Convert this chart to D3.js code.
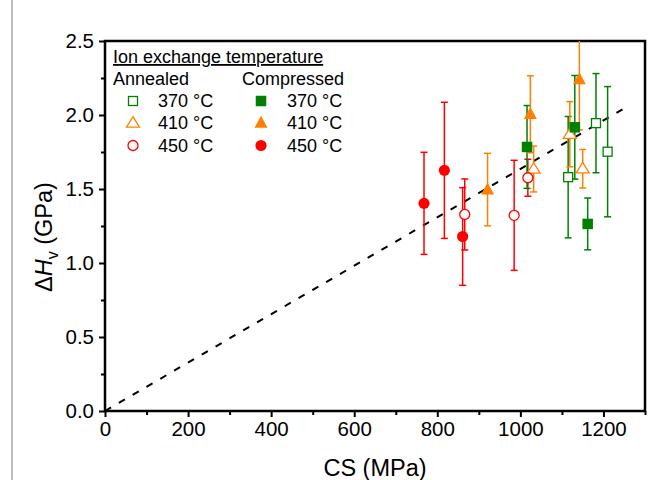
<!DOCTYPE html>
<html>
<head>
<meta charset="utf-8">
<script src="https://cdn.jsdelivr.net/npm/d3@7"></script>
<style>
  body { margin: 0; background: #fff; }
  svg { font-family: "Liberation Sans", Arial, sans-serif; }
</style>
</head>
<body>
<div id="chart"></div>
<script>
// CS (MPa), dHv (GPa), error (GPa)
const annealed370CS = [1115, 1182, 1210];
const annealed370Hv = [1.58, 1.945, 1.752];
const annealed370Err = [0.41, 0.335, 0.44];

const annealed410CS = [1032, 1119, 1150];
const annealed410Hv = [1.635, 1.87, 1.637];
const annealed410Err = [0.155, 0.22, 0.13];

const annealed450CS = [866, 985, 1018];
const annealed450Hv = [1.328, 1.322, 1.576];
const annealed450Err = [0.24, 0.372, 0.125];

const compressed370CS = [1016, 1131, 1162];
const compressed370Hv = [1.784, 1.917, 1.264];
const compressed370Err = [0.28, 0.35, 0.175];

const compressed410CS = [921, 1024, 1142];
const compressed410Hv = [1.496, 2.005, 2.24];
const compressed410Err = [0.245, 0.26, 0.34];

const compressed450CS = [768, 817, 861];
const compressed450Hv = [1.403, 1.626, 1.179];
const compressed450Err = [0.345, 0.46, 0.33];

const fitLine = [[0, 0], [1255, 2.053]];
const xTicks = [0, 200, 400, 600, 800, 1000, 1200];
const yTicks = [0.0, 0.5, 1.0, 1.5, 2.0, 2.5];

const green = "#008000", orange = "#ff8000", red = "#ff0000";

const series = [
  { name: "370 °C", cs: annealed370CS, hv: annealed370Hv, err: annealed370Err, color: green, shape: "square", open: true },
  { name: "410 °C", cs: annealed410CS, hv: annealed410Hv, err: annealed410Err, color: orange, shape: "triangle", open: true },
  { name: "450 °C", cs: annealed450CS, hv: annealed450Hv, err: annealed450Err, color: red, shape: "circle", open: true },
  { name: "370 °C", cs: compressed370CS, hv: compressed370Hv, err: compressed370Err, color: green, shape: "square", open: false },
  { name: "410 °C", cs: compressed410CS, hv: compressed410Hv, err: compressed410Err, color: orange, shape: "triangle", open: false },
  { name: "450 °C", cs: compressed450CS, hv: compressed450Hv, err: compressed450Err, color: red, shape: "circle", open: false }
];

const width = 651, height = 480;
const margin = { left: 105, right: 6, top: 41, bottom: 69 };

const svg = d3.select("#chart").append("svg")
  .attr("width", width)
  .attr("height", height);

// thin grey edge on the left
svg.append("line")
  .attr("x1", 12).attr("x2", 12).attr("y1", 0).attr("y2", height)
  .attr("stroke", "#bdbdbd").attr("stroke-width", 2);

const x = d3.scaleLinear().domain([0, 1300]).range([margin.left, width - margin.right]);
const y = d3.scaleLinear().domain([0, 2.5]).range([height - margin.bottom, margin.top]);

svg.append("clipPath").attr("id", "plot-clip")
  .append("rect")
  .attr("x", x(0)).attr("y", y(2.5))
  .attr("width", x(1300) - x(0)).attr("height", y(0) - y(2.5));

// axes
const xAxis = d3.axisBottom(x).tickValues(xTicks).tickSize(6).tickPadding(4).tickFormat(d3.format("d"));
const xMinor = d3.axisBottom(x).tickValues(d3.range(100, 1400, 200)).tickSize(4).tickFormat("");
const yAxis = d3.axisLeft(y).tickValues(yTicks).tickSize(6).tickPadding(5).tickFormat(d3.format(".1f"));
const yMinor = d3.axisLeft(y).tickValues(d3.range(0.25, 2.5, 0.5)).tickSize(4).tickFormat("");

[xAxis, xMinor].forEach(ax => {
  svg.append("g").attr("transform", `translate(0,${y(0)})`).call(ax);
});
[yAxis, yMinor].forEach(ax => {
  svg.append("g").attr("transform", `translate(${x(0)},0)`).call(ax);
});
svg.selectAll(".domain").remove();
svg.selectAll(".tick line").attr("stroke", "#000").attr("stroke-width", 2);
svg.selectAll(".tick text").attr("fill", "#000").style("font-size", "20.5px");

// frame
svg.append("rect")
  .attr("x", x(0)).attr("y", y(2.5))
  .attr("width", x(1300) - x(0)).attr("height", y(0) - y(2.5))
  .attr("fill", "none").attr("stroke", "#000").attr("stroke-width", 2.5);

// axis titles
svg.append("text")
  .attr("x", (x(0) + x(1300)) / 2).attr("y", 476)
  .attr("text-anchor", "middle")
  .style("font-size", "23.5px")
  .text("CS (MPa)");

const yTitle = svg.append("text")
  .attr("transform", `translate(52,237) rotate(-90)`)
  .attr("text-anchor", "middle")
  .style("font-size", "23.5px");
yTitle.append("tspan").text("Δ");
yTitle.append("tspan").style("font-style", "italic").text("H");
yTitle.append("tspan").attr("dy", 6).style("font-size", "16px").text("v");
yTitle.append("tspan").attr("dy", -6).text(" (GPa)");

// fit line
svg.append("line")
  .attr("x1", x(fitLine[0][0])).attr("y1", y(fitLine[0][1]))
  .attr("x2", x(fitLine[1][0])).attr("y2", y(fitLine[1][1]))
  .attr("stroke", "#000").attr("stroke-width", 2)
  .attr("stroke-dasharray", "7,9");

const plot = svg.append("g").attr("clip-path", "url(#plot-clip)");

function drawMarker(g, shape, color, open, cx, cy) {
  const fill = open ? "#fff" : color;
  const sw = open ? 1.3 : 0;
  if (shape === "square") {
    const a = open ? 9 : 10.5;
    g.append("rect").attr("x", cx - a / 2).attr("y", cy - a / 2)
      .attr("width", a).attr("height", a)
      .attr("fill", fill).attr("stroke", color).attr("stroke-width", sw);
  } else if (shape === "circle") {
    g.append("circle").attr("cx", cx).attr("cy", cy).attr("r", open ? 5 : 5.6)
      .attr("fill", fill).attr("stroke", color).attr("stroke-width", sw);
  } else {
    const w = 13, h = open ? 10.5 : 12;
    g.append("path")
      .attr("d", `M${cx},${cy - h * 0.6}L${cx + w / 2},${cy + h * 0.4}L${cx - w / 2},${cy + h * 0.4}Z`)
      .attr("fill", fill).attr("stroke", color).attr("stroke-width", sw);
  }
}

// error bars
series.forEach(s => {
  s.cs.forEach((c, i) => {
    const cx = x(c), top = y(s.hv[i] + s.err[i]), bot = y(s.hv[i] - s.err[i]);
    const g = plot.append("g").attr("stroke", s.color).attr("stroke-width", 1.5);
    g.append("line").attr("x1", cx).attr("x2", cx).attr("y1", top).attr("y2", bot);
    g.append("line").attr("x1", cx - 3.5).attr("x2", cx + 3.5).attr("y1", top).attr("y2", top);
    g.append("line").attr("x1", cx - 3.5).attr("x2", cx + 3.5).attr("y1", bot).attr("y2", bot);
  });
});

// markers
series.forEach(s => {
  s.cs.forEach((c, i) => {
    drawMarker(plot, s.shape, s.color, s.open, x(c), y(s.hv[i]));
  });
});

// legend
const legend = svg.append("g").style("font-size", "18px");
legend.append("text").attr("x", 113).attr("y", 63).text("Ion exchange temperature")
  .style("text-decoration", "underline");
legend.append("text").attr("x", 113).attr("y", 85).text("Annealed");
legend.append("text").attr("x", 242).attr("y", 85).text("Compressed");
const rowY = [101, 123, 145.5];
series.forEach((s, i) => {
  const col = s.open ? 0 : 1;
  const row = i % 3;
  const mx = col === 0 ? 133 : 261;
  drawMarker(legend, s.shape, s.color, s.open, mx, rowY[row]);
  legend.append("text").attr("x", col === 0 ? 158 : 287).attr("y", rowY[row] + 6).text(s.name);
});
</script>
</body>
</html>
